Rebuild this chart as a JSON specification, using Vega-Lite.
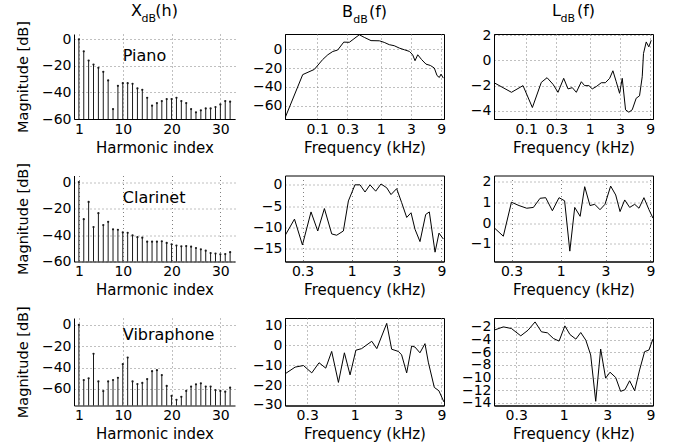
{
  "$schema": "https://vega.github.io/schema/vega-lite/v6.json",
  "autosize": "pad",
  "padding": {"left": 15, "top": 2, "right": 5, "bottom": 2},
  "background": "white",
  "datasets": {
    "pianoX": [{"h":1,"db":0},{"h":2,"db":-9},{"h":3,"db":-16},{"h":4,"db":-19},{"h":5,"db":-21.5},{"h":6,"db":-24.5},{"h":7,"db":-31},{"h":8,"db":-52.5},{"h":9,"db":-35},{"h":10,"db":-33},{"h":11,"db":-33},{"h":12,"db":-33.5},{"h":13,"db":-37},{"h":14,"db":-38},{"h":15,"db":-44},{"h":16,"db":-50},{"h":17,"db":-48},{"h":18,"db":-46.5},{"h":19,"db":-45},{"h":20,"db":-45},{"h":21,"db":-44},{"h":22,"db":-46.5},{"h":23,"db":-48},{"h":24,"db":-52.5},{"h":25,"db":-55},{"h":26,"db":-53.5},{"h":27,"db":-52},{"h":28,"db":-52},{"h":29,"db":-51},{"h":30,"db":-49},{"h":31,"db":-46.5},{"h":32,"db":-47}],
    "clarX": [{"h":1,"db":0},{"h":2,"db":-28},{"h":3,"db":-15},{"h":4,"db":-34},{"h":5,"db":-23.5},{"h":6,"db":-32.5},{"h":7,"db":-30},{"h":8,"db":-35.7},{"h":9,"db":-36},{"h":10,"db":-38},{"h":11,"db":-38.3},{"h":12,"db":-40.3},{"h":13,"db":-41.6},{"h":14,"db":-42},{"h":15,"db":-45},{"h":16,"db":-45},{"h":17,"db":-45},{"h":18,"db":-44.7},{"h":19,"db":-46},{"h":20,"db":-47},{"h":21,"db":-48},{"h":22,"db":-48.5},{"h":23,"db":-48.3},{"h":24,"db":-48.8},{"h":25,"db":-49.8},{"h":26,"db":-50.8},{"h":27,"db":-51.8},{"h":28,"db":-53.6},{"h":29,"db":-54},{"h":30,"db":-54.6},{"h":31,"db":-54.4},{"h":32,"db":-53}],
    "vibX": [{"h":1,"db":0},{"h":2,"db":-51.6},{"h":3,"db":-50},{"h":4,"db":-27},{"h":5,"db":-53},{"h":6,"db":-62},{"h":7,"db":-53},{"h":8,"db":-51.6},{"h":9,"db":-49.5},{"h":10,"db":-36.8},{"h":11,"db":-30.6},{"h":12,"db":-53},{"h":13,"db":-55.4},{"h":14,"db":-54.4},{"h":15,"db":-50.7},{"h":16,"db":-43.3},{"h":17,"db":-42.4},{"h":18,"db":-47},{"h":19,"db":-57.2},{"h":20,"db":-66.5},{"h":21,"db":-70.2},{"h":22,"db":-67.4},{"h":23,"db":-61.9},{"h":24,"db":-57.8},{"h":25,"db":-55.7},{"h":26,"db":-54.7},{"h":27,"db":-57.8},{"h":28,"db":-57.8},{"h":29,"db":-61.2},{"h":30,"db":-61.9},{"h":31,"db":-62.5},{"h":32,"db":-58.8}],
    "pianoB": [{"f":0.031,"db":-73},{"f":0.059,"db":-27},{"f":0.09,"db":-21.5},{"f":0.122,"db":-11},{"f":0.147,"db":-6},{"f":0.176,"db":-2.5},{"f":0.21,"db":-1},{"f":0.262,"db":7.4},{"f":0.321,"db":7.2},{"f":0.461,"db":15.2},{"f":0.553,"db":12.4},{"f":0.706,"db":9},{"f":0.955,"db":8.8},{"f":1.14,"db":7.1},{"f":1.37,"db":4.7},{"f":1.64,"db":3.6},{"f":1.97,"db":1.1},{"f":2.37,"db":-0.7},{"f":2.84,"db":-2.4},{"f":3.2,"db":-5.9},{"f":3.49,"db":-12.3},{"f":3.85,"db":-6},{"f":4.45,"db":-11.2},{"f":5.2,"db":-15.9},{"f":6.08,"db":-17.3},{"f":7.03,"db":-20},{"f":7.76,"db":-28},{"f":8.44,"db":-30},{"f":8.97,"db":-26.5},{"f":9.75,"db":-30.7}],
    "pianoL": [{"f":0.0311,"db":-1.77},{"f":0.0585,"db":-2.53},{"f":0.089,"db":-2.0},{"f":0.125,"db":-3.74},{"f":0.173,"db":-1.74},{"f":0.213,"db":-1.37},{"f":0.265,"db":-1.9},{"f":0.317,"db":-2.53},{"f":0.39,"db":-1.42},{"f":0.456,"db":-2.26},{"f":0.533,"db":-2.16},{"f":0.617,"db":-2.53},{"f":0.74,"db":-1.69},{"f":0.834,"db":-2.0},{"f":0.975,"db":-2.0},{"f":1.1,"db":-2.26},{"f":1.27,"db":-2.08},{"f":1.53,"db":-1.77},{"f":1.77,"db":-1.77},{"f":2.07,"db":-1.42},{"f":2.33,"db":-0.82},{"f":2.63,"db":-1.69},{"f":2.97,"db":-2.61},{"f":3.27,"db":-1.42},{"f":3.69,"db":-3.92},{"f":4.16,"db":-4.11},{"f":4.7,"db":-3.92},{"f":5.43,"db":-3.0},{"f":6.13,"db":-2.81},{"f":6.76,"db":-1.29},{"f":7.08,"db":0.55},{"f":7.82,"db":1.47},{"f":8.59,"db":1.08},{"f":9.37,"db":1.6}],
    "clarB": [{"f":0.195,"db":-12.0},{"f":0.246,"db":-8.1},{"f":0.299,"db":-14.2},{"f":0.369,"db":-6.4},{"f":0.435,"db":-10.9},{"f":0.512,"db":-5.6},{"f":0.613,"db":-11.6},{"f":0.692,"db":-11.9},{"f":0.815,"db":-10.9},{"f":0.922,"db":-3.8},{"f":1.084,"db":0},{"f":1.225,"db":0},{"f":1.386,"db":-1.7},{"f":1.566,"db":0},{"f":1.8,"db":-1.5},{"f":2.05,"db":0.2},{"f":2.36,"db":-0.7},{"f":2.62,"db":-2.3},{"f":3.01,"db":-0.9},{"f":3.4,"db":-4.2},{"f":3.85,"db":-7.7},{"f":4.28,"db":-6.6},{"f":4.72,"db":-10.5},{"f":5.33,"db":-13.4},{"f":6.13,"db":-7.0},{"f":6.7,"db":-6.4},{"f":7.71,"db":-15.9},{"f":8.49,"db":-11.4},{"f":9.45,"db":-12.8}],
    "clarL": [{"f":0.2,"db":-0.26},{"f":0.245,"db":-0.63},{"f":0.299,"db":1.01},{"f":0.36,"db":0.85},{"f":0.435,"db":0.72},{"f":0.512,"db":0.76},{"f":0.603,"db":1.2},{"f":0.692,"db":1.23},{"f":0.815,"db":0.6},{"f":0.96,"db":1.23},{"f":1.1,"db":1.08},{"f":1.25,"db":-1.35},{"f":1.41,"db":0.76},{"f":1.61,"db":0.33},{"f":1.8,"db":1.76},{"f":2.05,"db":0.85},{"f":2.3,"db":0.91},{"f":2.62,"db":0.65},{"f":2.96,"db":0.91},{"f":3.4,"db":1.79},{"f":3.85,"db":1.36},{"f":4.28,"db":0.56},{"f":4.8,"db":1.12},{"f":5.42,"db":0.76},{"f":6.13,"db":0.91},{"f":6.81,"db":0.72},{"f":7.69,"db":1.23},{"f":8.7,"db":0.65},{"f":9.6,"db":0.24}],
    "vibB": [{"f":0.171,"db":-14.4},{"f":0.221,"db":-11.0},{"f":0.273,"db":-10.2},{"f":0.337,"db":-13.9},{"f":0.405,"db":-8.8},{"f":0.48,"db":-11.5},{"f":0.558,"db":-3.1},{"f":0.662,"db":-18.7},{"f":0.77,"db":-3.8},{"f":0.889,"db":-14.9},{"f":1.03,"db":-2.5},{"f":1.19,"db":-1.7},{"f":1.54,"db":2.0},{"f":1.75,"db":-1.7},{"f":2.25,"db":11.0},{"f":2.55,"db":-2.0},{"f":3.02,"db":-3.1},{"f":3.28,"db":-4.8},{"f":3.73,"db":-13.9},{"f":4.23,"db":-0.4},{"f":4.6,"db":-0.9},{"f":5.22,"db":-3.8},{"f":5.93,"db":0.8},{"f":6.45,"db":-8.5},{"f":7.51,"db":-21.2},{"f":8.44,"db":-22.9},{"f":9.58,"db":-28.5}],
    "vibL": [{"f":0.171,"db":-2.52},{"f":0.217,"db":-2.0},{"f":0.266,"db":-2.26},{"f":0.337,"db":-3.41},{"f":0.405,"db":-2.52},{"f":0.484,"db":-1.22},{"f":0.569,"db":-2.78},{"f":0.662,"db":-2.94},{"f":0.77,"db":-3.83},{"f":0.889,"db":-4.24},{"f":1.03,"db":-1.84},{"f":1.17,"db":-3.2},{"f":1.36,"db":-3.93},{"f":1.54,"db":-2.89},{"f":1.75,"db":-4.09},{"f":1.98,"db":-6.43},{"f":2.25,"db":-13.74},{"f":2.55,"db":-5.49},{"f":2.89,"db":-10.09},{"f":3.23,"db":-9.15},{"f":3.73,"db":-9.98},{"f":4.23,"db":-12.17},{"f":4.72,"db":-11.91},{"f":5.31,"db":-10.5},{"f":6.03,"db":-12.07},{"f":6.84,"db":-8.78},{"f":7.76,"db":-5.91},{"f":8.66,"db":-5.65},{"f":9.58,"db":-3.93}]
  },
  "columns": 3,
  "align": "each",
  "bounds": "flush",
  "spacing": {"row": 56.5, "column": 50},
  "concat": [
    {
      "width": 161, "height": 85,
      "view": {"stroke": null},
      "title": {"text": "X\u2002\u2004(h)", "subtitle": "dB\u00a0\u2800", "offset": -3.5},
      "encoding": {
        "x": {"field": "h", "type": "quantitative", "scale": {"domain": [0, 33], "nice": false, "zero": false}, "axis": {"values": [1, 10, 20, 30], "title": "Harmonic index", "grid": true}},
        "y": {"field": "db", "type": "quantitative", "scale": {"domain": [-60, 4], "nice": false, "zero": false}, "axis": {"values": [-60, -40, -20, 0], "title": "Magnitude [dB]", "grid": true, "titlePadding": 11, "titleFontSize": 14.5, "labelOverlap": false}}
      },
      "layer": [
        {"data": {"name": "pianoX"}, "mark": {"type": "rule", "color": "#1a1a1a", "strokeWidth": 1}, "encoding": {"y2": {"datum": -60}}},
        {"data": {"name": "pianoX"}, "mark": {"type": "point", "filled": true, "size": 5, "color": "#1a1a1a", "opacity": 1}},
        {"data": {"values": [{"name": "Piano", "h": 10, "db": -16}]}, "mark": {"type": "text", "align": "left", "baseline": "alphabetic", "fontSize": 16, "font": "DejaVu Sans", "color": "black"}, "encoding": {"text": {"field": "name"}}}
      ]
    },
    {
      "width": 159, "height": 85,
      "title": {"text": "B\u2003(f)", "subtitle": "dB\u2800", "offset": 9},
      "data": {"name": "pianoB"},
      "mark": {"type": "line", "color": "black", "strokeWidth": 1, "clip": true},
      "encoding": {
        "x": {"field": "f", "type": "quantitative", "scale": {"type": "log", "domain": [0.031, 10], "nice": false}, "axis": {"values": [0.1, 0.3, 1, 3, 9], "format": "~g", "title": "Frequency (kHz)", "grid": true}},
        "y": {"field": "db", "type": "quantitative", "scale": {"domain": [-74, 16], "nice": false, "zero": false}, "axis": {"values": [-60, -40, -20, 0], "title": null, "grid": true}}
      }
    },
    {
      "width": 159, "height": 85,
      "title": {"text": "L\u2003(f)", "subtitle": "dB\u00a0\u2800", "offset": 4.5},
      "data": {"name": "pianoL"},
      "mark": {"type": "line", "color": "black", "strokeWidth": 1, "clip": true},
      "encoding": {
        "x": {"field": "f", "type": "quantitative", "scale": {"type": "log", "domain": [0.031, 10], "nice": false}, "axis": {"values": [0.1, 0.3, 1, 3, 9], "format": "~g", "title": "Frequency (kHz)", "grid": true}},
        "y": {"field": "db", "type": "quantitative", "scale": {"domain": [-4.65, 2.1], "nice": false, "zero": false}, "axis": {"values": [-4, -2, 0, 2], "title": null, "grid": true}}
      }
    },
    {
      "width": 161, "height": 86,
      "view": {"stroke": null},
      "encoding": {
        "x": {"field": "h", "type": "quantitative", "scale": {"domain": [0, 33], "nice": false, "zero": false}, "axis": {"values": [1, 10, 20, 30], "title": "Harmonic index", "grid": true}},
        "y": {"field": "db", "type": "quantitative", "scale": {"domain": [-60, 5], "nice": false, "zero": false}, "axis": {"values": [-60, -40, -20, 0], "title": "Magnitude [dB]", "grid": true, "titlePadding": 11, "titleFontSize": 14.5, "labelOverlap": false}}
      },
      "layer": [
        {"data": {"name": "clarX"}, "mark": {"type": "rule", "color": "#1a1a1a", "strokeWidth": 1}, "encoding": {"y2": {"datum": -60}}},
        {"data": {"name": "clarX"}, "mark": {"type": "point", "filled": true, "size": 5, "color": "#1a1a1a", "opacity": 1}},
        {"data": {"values": [{"name": "Clarinet", "h": 10, "db": -16}]}, "mark": {"type": "text", "align": "left", "baseline": "alphabetic", "fontSize": 16, "font": "DejaVu Sans", "color": "black"}, "encoding": {"text": {"field": "name"}}}
      ]
    },
    {
      "width": 159, "height": 86,
      "data": {"name": "clarB"},
      "mark": {"type": "line", "color": "black", "strokeWidth": 1, "clip": true},
      "encoding": {
        "x": {"field": "f", "type": "quantitative", "scale": {"type": "log", "domain": [0.195, 9.6], "nice": false}, "axis": {"values": [0.3, 1, 3, 9], "format": "~g", "title": "Frequency (kHz)", "grid": true}},
        "y": {"field": "db", "type": "quantitative", "scale": {"domain": [-18.1, 2.2], "nice": false, "zero": false}, "axis": {"values": [-15, -10, -5, 0], "title": null, "grid": true}}
      }
    },
    {
      "width": 159, "height": 86,
      "data": {"name": "clarL"},
      "mark": {"type": "line", "color": "black", "strokeWidth": 1, "clip": true},
      "encoding": {
        "x": {"field": "f", "type": "quantitative", "scale": {"type": "log", "domain": [0.195, 9.6], "nice": false}, "axis": {"values": [0.3, 1, 3, 9], "format": "~g", "title": "Frequency (kHz)", "grid": true}},
        "y": {"field": "db", "type": "quantitative", "scale": {"domain": [-1.85, 2.3], "nice": false, "zero": false}, "axis": {"values": [-1, 0, 1, 2], "title": null, "grid": true}}
      }
    },
    {
      "width": 161, "height": 87.5,
      "view": {"stroke": null},
      "encoding": {
        "x": {"field": "h", "type": "quantitative", "scale": {"domain": [0, 33], "nice": false, "zero": false}, "axis": {"values": [1, 10, 20, 30], "title": "Harmonic index", "grid": true}},
        "y": {"field": "db", "type": "quantitative", "scale": {"domain": [-75.5, 6.5], "nice": false, "zero": false}, "axis": {"values": [-60, -40, -20, 0], "title": "Magnitude [dB]", "grid": true, "titlePadding": 11, "titleFontSize": 14.5, "labelOverlap": false}}
      },
      "layer": [
        {"data": {"name": "vibX"}, "mark": {"type": "rule", "color": "#1a1a1a", "strokeWidth": 1}, "encoding": {"y2": {"datum": -75.5}}},
        {"data": {"name": "vibX"}, "mark": {"type": "point", "filled": true, "size": 5, "color": "#1a1a1a", "opacity": 1}},
        {"data": {"values": [{"name": "Vibraphone", "h": 10, "db": -14.5}]}, "mark": {"type": "text", "align": "left", "baseline": "alphabetic", "fontSize": 16, "font": "DejaVu Sans", "color": "black"}, "encoding": {"text": {"field": "name"}}}
      ]
    },
    {
      "width": 159, "height": 87.5,
      "data": {"name": "vibB"},
      "mark": {"type": "line", "color": "black", "strokeWidth": 1, "clip": true},
      "encoding": {
        "x": {"field": "f", "type": "quantitative", "scale": {"type": "log", "domain": [0.171, 9.6], "nice": false}, "axis": {"values": [0.3, 1, 3, 9], "format": "~g", "title": "Frequency (kHz)", "grid": true}},
        "y": {"field": "db", "type": "quantitative", "scale": {"domain": [-30.3, 13.7], "nice": false, "zero": false}, "axis": {"values": [-30, -20, -10, 0, 10], "title": null, "grid": true}}
      }
    },
    {
      "width": 159, "height": 87.5,
      "data": {"name": "vibL"},
      "mark": {"type": "line", "color": "black", "strokeWidth": 1, "clip": true},
      "encoding": {
        "x": {"field": "f", "type": "quantitative", "scale": {"type": "log", "domain": [0.171, 9.6], "nice": false}, "axis": {"values": [0.3, 1, 3, 9], "format": "~g", "title": "Frequency (kHz)", "grid": true}},
        "y": {"field": "db", "type": "quantitative", "scale": {"domain": [-14.4, -0.6], "nice": false, "zero": false}, "axis": {"values": [-14, -12, -10, -8, -6, -4, -2], "title": null, "grid": true}}
      }
    }
  ],
  "config": {
    "font": "DejaVu Sans",
    "view": {"stroke": "black", "strokeWidth": 1},
    "axis": {
      "domainColor": "black", "domainWidth": 1, "ticks": false,
      "labelFont": "DejaVu Sans", "labelFontSize": 14, "labelColor": "black", "labelPadding": 3,
      "labelOverlap": false, "labelFlush": false,
      "titleFont": "DejaVu Sans", "titleFontSize": 15, "titleFontWeight": "normal", "titleColor": "black", "titlePadding": 4,
      "gridColor": "#808080", "gridDash": [1, 3], "gridWidth": 1, "gridOpacity": 1
    },
    "title": {
      "font": "DejaVu Sans", "fontSize": 16, "fontWeight": "normal", "color": "black",
      "subtitleFont": "DejaVu Sans", "subtitleFontSize": 11, "subtitleColor": "black", "subtitlePadding": -6,
      "frame": "group", "anchor": "middle"
    }
  }
}
